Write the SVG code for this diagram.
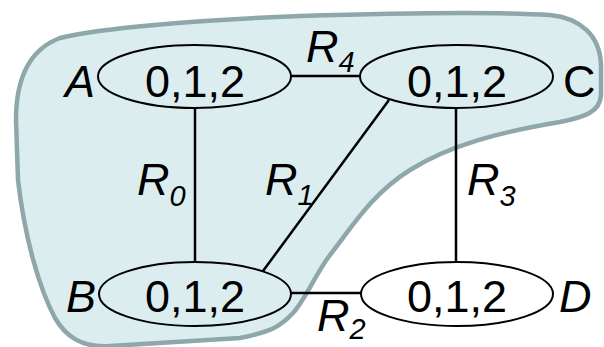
<svg xmlns="http://www.w3.org/2000/svg" width="604" height="347" viewBox="0 0 604 347">
<style>
.blob{fill:#dcedf0;stroke:#8ea7aa;stroke-width:4.5;stroke-linejoin:round}
.node ellipse{fill:none;stroke:#000;stroke-width:2}
.edge{stroke:#000;stroke-width:2.5;fill:none}
text{font-family:"Liberation Sans",Arial,sans-serif;fill:#000}
.val{font-size:45px;text-anchor:middle}
.lab{font-size:45px;font-style:italic}
.up{font-style:normal}
.sub{font-size:29px}
</style>
<rect width="604" height="347" fill="#fff"/>
<path class="blob" d="M 60,38 C 100,28 200,20 300,16 C 400,13 500,12 550,15 C 580,18 600,35 601,65 L 601,95 C 600,112 585,117 560,122 C 500,132 450,145 410,170 C 370,195 350,230 330,255 C 315,275 305,300 293,313 C 280,327 270,332 240,338 L 110,346 C 80,348 65,335 55,318 C 40,290 25,240 18,180 L 16,120 C 16,80 28,50 60,38 Z"/>
<g id="edges">
<line class="edge" x1="291" y1="76" x2="360" y2="76"/>
<line class="edge" x1="195" y1="108" x2="195" y2="262"/>
<line class="edge" x1="456" y1="108" x2="456" y2="262"/>
<line class="edge" x1="389" y1="100" x2="263" y2="271"/>
<line class="edge" x1="291" y1="293" x2="361" y2="293"/>
<text class="lab" x="306" y="62">R<tspan class="sub" dy="10">4</tspan></text>
<text class="lab" x="137" y="195">R<tspan class="sub" dy="11">0</tspan></text>
<text class="lab" x="265" y="195">R<tspan class="sub" dy="10">1</tspan></text>
<text class="lab" x="467" y="195">R<tspan class="sub" dy="11">3</tspan></text>
<text class="lab" x="317" y="331">R<tspan class="sub" dy="8">2</tspan></text>
</g>
<g id="A" class="node">
<ellipse cx="194.5" cy="76.5" rx="96.5" ry="31.5"/>
<text class="val" x="195" y="97">0,1,2</text>
<text class="lab" x="65" y="97">A</text>
</g>
<g id="C" class="node">
<ellipse cx="456.5" cy="76.5" rx="96.5" ry="31.5"/>
<text class="val" x="457" y="97">0,1,2</text>
<text class="lab up" x="563" y="97">C</text>
</g>
<g id="B" class="node">
<ellipse cx="195" cy="294" rx="96" ry="32"/>
<text class="val" x="195" y="312">0,1,2</text>
<text class="lab" x="66" y="312">B</text>
</g>
<g id="D" class="node">
<ellipse cx="457" cy="294" rx="96" ry="32"/>
<text class="val" x="457" y="312">0,1,2</text>
<text class="lab" x="559" y="312">D</text>
</g>
</svg>
